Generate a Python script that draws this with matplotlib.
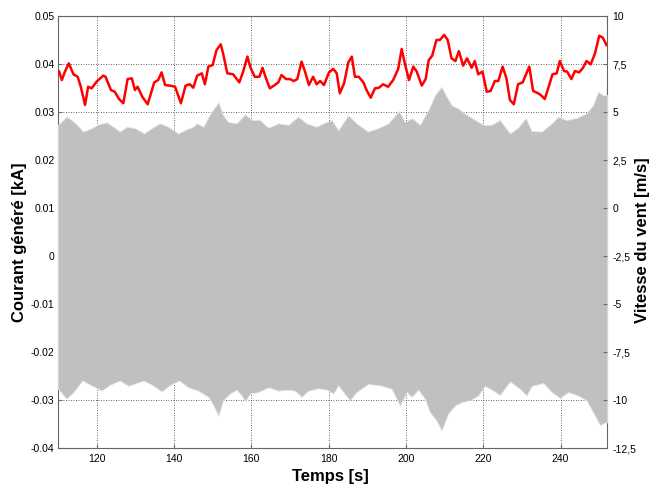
import matplotlib
matplotlib.use("Agg")
import matplotlib.pyplot as plt
import numpy as np

# vitesse du vent [m/s] (axe de droite)
t_vent = [110.3, 111.0, 111.8, 112.8, 114.0, 115.1, 115.9, 117.0, 117.8, 118.7,
          120.0, 121.7, 122.3, 123.7, 124.7, 125.8, 126.9, 128.0, 129.1, 129.9,
          130.6, 131.8, 133.2, 134.9, 135.9, 136.8, 137.7, 139.0, 140.3, 141.8,
          143.0, 144.1, 145.0, 146.0, 147.2, 148.0, 148.9, 150.0, 151.0, 152.1,
          152.7, 153.8, 155.3, 156.9, 157.9, 159.0, 159.8, 160.9, 162.1, 162.9,
          163.8, 164.8, 166.1, 167.0, 167.8, 169.0, 170.0, 171.0, 171.9, 173.0,
          173.9, 174.9, 176.0, 176.9, 177.8, 178.8, 180.1, 181.2, 182.1, 182.9,
          184.0, 185.1, 186.0, 186.8, 187.8, 189.0, 189.8, 190.9, 192.0, 193.0,
          194.1, 195.4, 196.7, 198.0, 198.9, 199.7, 200.8, 201.9, 202.8, 204.1,
          205.1, 205.9, 206.8, 207.9, 208.8, 209.9, 210.8, 211.8, 212.8, 213.7,
          214.8, 215.8, 217.0, 217.8, 218.7, 219.8, 220.9, 221.9, 223.0, 223.9,
          225.0, 226.0, 226.9, 227.9, 229.0, 230.2, 231.0, 231.9, 232.9, 234.2,
          235.1, 235.9, 236.8, 237.9, 239.0, 239.8, 240.9, 241.7, 242.8, 243.7,
          244.8, 245.8, 246.7, 247.8, 248.9, 250.0, 250.9, 251.9]
vent = [7.12, 6.68, 7.12, 7.55, 6.98, 6.85, 6.33, 5.38, 6.33, 6.25,
        6.60, 6.91, 6.85, 6.16, 6.07, 5.69, 5.47, 6.73, 6.77, 6.16,
        6.33, 5.81, 5.42, 6.56, 6.68, 7.08, 6.42, 6.39, 6.33, 5.47,
        6.39, 6.46, 6.28, 6.91, 7.03, 6.46, 7.38, 7.46, 8.24, 8.54,
        8.07, 7.03, 6.98, 6.56, 7.12, 7.90, 7.32, 6.85, 6.85, 7.32,
        6.77, 6.25, 6.42, 6.56, 6.94, 6.73, 6.73, 6.63, 6.73, 7.64,
        7.12, 6.42, 6.85, 6.46, 6.63, 6.42, 7.08, 7.26, 7.03, 5.99,
        6.51, 7.60, 7.90, 6.85, 6.85, 6.56, 6.16, 5.76, 6.25, 6.28,
        6.46, 6.33, 6.68, 7.26, 8.30, 7.55, 6.68, 7.38, 7.12, 6.39,
        6.73, 7.72, 7.95, 8.77, 8.77, 9.03, 8.77, 7.81, 7.67, 8.19,
        7.43, 7.81, 7.32, 7.67, 6.98, 7.12, 6.07, 6.11, 6.63, 6.63,
        7.38, 6.77, 5.64, 5.42, 6.46, 6.56, 6.94, 7.38, 6.11, 5.99,
        5.86, 5.69, 6.25, 6.98, 7.03, 7.67, 7.15, 7.12, 6.73, 7.15,
        7.08, 7.32, 7.67, 7.50, 8.07, 8.99, 8.89, 8.50]

# enveloppe du courant genere [kA] (axe de gauche)
t_haut = [110.0, 112.2, 113.5, 114.8, 116.5, 118.7, 120.4, 122.6, 124.3, 126.0,
          127.8, 129.9, 132.3, 134.2, 136.4, 138.5, 141.1, 143.3, 145.0, 145.9,
          147.6, 149.3, 151.5, 152.7, 154.0, 156.2, 158.4, 160.1, 162.2, 164.4,
          167.0, 169.6, 172.1, 174.3, 176.9, 178.6, 180.8, 182.5, 185.1, 187.2,
          190.2, 192.8, 195.4, 198.2, 199.7, 201.6, 203.6, 205.8, 207.5, 209.2,
          210.5, 211.8, 213.5, 215.1, 216.5, 220.0, 222.2, 224.3, 226.9, 229.0,
          231.0, 232.5, 235.1, 237.7, 239.4, 241.5, 244.1, 246.7, 248.4, 249.7,
          251.0, 252.0]
c_haut = [0.0274, 0.0291, 0.0284, 0.0275, 0.0260, 0.0267, 0.0275, 0.0279, 0.0270, 0.0260,
          0.0270, 0.0267, 0.0256, 0.0267, 0.0277, 0.0270, 0.0256, 0.0265, 0.0270, 0.0277,
          0.0270, 0.0296, 0.0321, 0.0294, 0.0280, 0.0277, 0.0296, 0.0284, 0.0284, 0.0268,
          0.0277, 0.0274, 0.0291, 0.0277, 0.0270, 0.0277, 0.0284, 0.0263, 0.0294, 0.0277,
          0.0260, 0.0267, 0.0277, 0.0303, 0.0280, 0.0288, 0.0274, 0.0305, 0.0336, 0.0353,
          0.0333, 0.0315, 0.0308, 0.0298, 0.0291, 0.0274, 0.0274, 0.0284, 0.0256, 0.0268,
          0.0288, 0.0261, 0.0260, 0.0277, 0.0291, 0.0284, 0.0288, 0.0298, 0.0315, 0.0343,
          0.0336, 0.0336]
t_bas = [110.0, 112.2, 114.0, 116.3, 118.7, 121.3, 123.4, 126.0, 128.2, 132.1,
         134.6, 136.8, 139.0, 141.3, 143.7, 146.3, 148.9, 150.2, 151.5, 152.7,
         154.5, 156.2, 157.5, 158.4, 159.7, 161.8, 164.4, 167.0, 169.6, 171.3,
         173.0, 174.7, 177.3, 179.5, 181.2, 182.5, 183.8, 185.5, 187.2, 190.2,
         193.3, 196.3, 198.4, 200.2, 201.5, 203.2, 204.9, 206.2, 207.9, 209.2,
         210.9, 212.7, 214.4, 216.5, 218.7, 220.4, 222.6, 224.3, 226.9, 229.5,
         231.2, 232.5, 235.5, 237.7, 239.8, 242.0, 244.5, 246.7, 248.4, 250.2,
         251.5, 252.0]
c_bas = [-0.0276, -0.0297, -0.0283, -0.0259, -0.0269, -0.0280, -0.0268, -0.0259, -0.0270, -0.0259,
         -0.0269, -0.0282, -0.0268, -0.0259, -0.0273, -0.0280, -0.0293, -0.0311, -0.0332, -0.0300,
         -0.0286, -0.0278, -0.0290, -0.0302, -0.0286, -0.0283, -0.0273, -0.0280, -0.0278, -0.0280,
         -0.0293, -0.0280, -0.0275, -0.0278, -0.0286, -0.0269, -0.0283, -0.0300, -0.0283, -0.0266,
         -0.0269, -0.0276, -0.0311, -0.0283, -0.0293, -0.0278, -0.0297, -0.0325, -0.0342, -0.0363,
         -0.0328, -0.0311, -0.0304, -0.0300, -0.0290, -0.0270, -0.0280, -0.0289, -0.0261, -0.0276,
         -0.0290, -0.0270, -0.0264, -0.0283, -0.0295, -0.0283, -0.0290, -0.0300, -0.0325, -0.0352,
         -0.0346, -0.0346]

x_ticks = [120, 140, 160, 180, 200, 220, 240]
y_ticks = [0.05, 0.04, 0.03, 0.02, 0.01, 0, -0.01, -0.02, -0.03, -0.04]
y2_ticks = [10, 7.5, 5, 2.5, 0, -2.5, -5, -7.5, -10, -12.5]

plt.rcParams['font.family'] = ['Liberation Sans', 'DejaVu Sans']

fig = plt.figure(figsize=(6.5, 4.84), dpi=100)
ax = fig.add_axes([0.0892, 0.0738, 0.8446, 0.8925])
ax2 = ax.twinx()

# courant : enveloppe grise (sinusoide tres dense)
t_env = np.union1d(t_haut, t_bas)
ax.fill_between(t_env, np.interp(t_env, t_bas, c_bas), np.interp(t_env, t_haut, c_haut),
                facecolor='#c0c0c0', edgecolor='#ece6d6', linewidth=0.6, zorder=3)

ax.set_xlim(110, 252)
ax.set_ylim(-0.04, 0.05)
ax.set_xticks(x_ticks)
ax.set_yticks(y_ticks)
ax.set_yticklabels(['0' if v == 0 else f'{v:.2f}' for v in y_ticks])
ax.set_axisbelow(True)
ax.grid(True, color='#333333', linestyle=(0, (1, 2)), linewidth=0.6)
ax.tick_params(direction='in', length=3, labelsize=7.5, color='#666666')
ax.tick_params(axis='x', pad=4)
ax.tick_params(axis='y', pad=2.5)
for s in ax.spines.values():
    s.set_color('#666666')
    s.set_linewidth(0.8)

# vent : courbe rouge
ax2.plot(t_vent, vent, color='#ff0000', linewidth=1.8, zorder=5)
ax2.set_ylim(-12.5, 10)
ax2.set_yticks(y2_ticks)
ax2.set_yticklabels([f'{v:g}'.replace('.', ',') for v in y2_ticks])
ax2.tick_params(direction='in', length=3, labelsize=7.5, pad=4, color='#666666')
for s in ax2.spines.values():
    s.set_visible(False)

fig.text(20 / 650, 1 - 242 / 484, 'Courant généré [kA]', rotation=90,
         ha='center', va='center', fontsize=12, fontweight='bold')
fig.text(643 / 650, 1 - 240 / 484, 'Vitesse du vent [m/s]', rotation=90,
         ha='center', va='center', fontsize=12, fontweight='bold')
fig.text(330 / 650, 1 - 476 / 484, 'Temps [s]',
         ha='center', va='center', fontsize=12, fontweight='bold')

fig.savefig('out.png', dpi=100)
